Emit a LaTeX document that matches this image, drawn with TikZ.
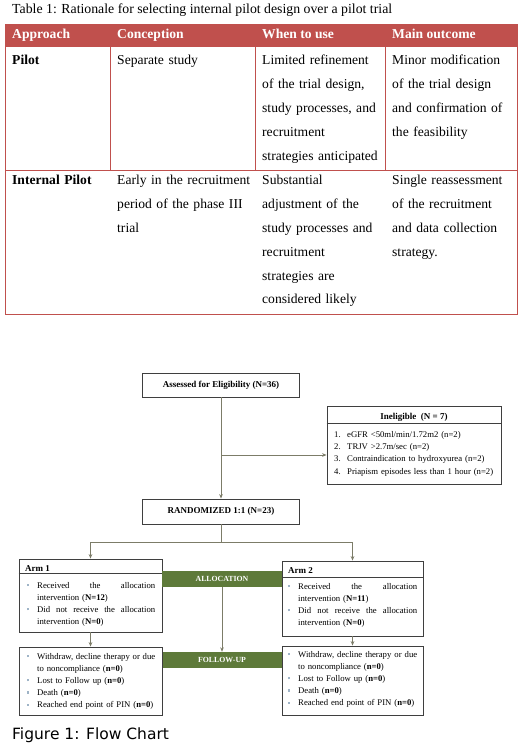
\documentclass[tikz,border=0pt]{standalone}
\usepackage{fontspec}
\setmainfont{Liberation Serif}
\newfontfamily\captionsans{DejaVu Sans}
\usetikzlibrary{positioning,arrows.meta}
\definecolor{TableRed}{HTML}{C0504D}
\definecolor{ChartGreen}{HTML}{5E7A3A}
\definecolor{ChartLine}{HTML}{7C7C68}
\definecolor{BoxEdge}{HTML}{3F3F3F}
\definecolor{BulletGray}{HTML}{9FB4C7}
\newcommand{\tabfont}{\fontsize{13.6}{23.8}\selectfont}
\newcommand{\bul}{\makebox[10pt][l]{\textcolor{BulletGray}{\rule[2pt]{2.2pt}{2.2pt}}}}
\newcommand{\ind}{\hspace*{10pt}}
% a justified list line that never breaks
\newcommand{\jline}[2]{\hbox to #1{#2}}
\tikzset{
  table head/.style={anchor=base west,inner sep=0pt,text=white,font=\tabfont\bfseries},
  table cell/.style={anchor=base west,inner sep=0pt,text width=136pt,align=left,font=\tabfont},
  table rule/.style={draw=TableRed,line width=0.9pt},
  chart box/.style={draw=BoxEdge,line width=0.8pt,minimum width=157pt,minimum height=24pt,
    inner sep=0pt,font=\fontsize{9}{11}\selectfont\bfseries},
  chart frame/.style={draw=BoxEdge,line width=0.8pt,inner sep=0pt},
  chart head/.style={anchor=base west,inner sep=0pt,font=\fontsize{9}{11}\selectfont\bfseries},
  chart list/.style={anchor=base west,inner sep=0pt,align=left,font=\fontsize{8.7}{12.2}\selectfont},
  chart bar/.style={fill=ChartGreen,text=white,minimum width=120pt,minimum height=16pt,
    inner sep=0pt,font=\fontsize{7.8}{9}\selectfont\bfseries},
  chart arrow/.style={-{Stealth[length=4.5pt,width=3.6pt]},line width=0.8pt,draw=ChartLine},
  chart line/.style={line width=0.8pt,draw=ChartLine}
}

\begin{document}
\begin{tikzpicture}[x=1pt,y=-1pt]
  \useasboundingbox (0,0) rectangle (520,743);
  % table
  \node[anchor=base west,inner sep=0pt,font=\fontsize{13.8}{16}\selectfont] (tabcaption) at (12,14)
    {Table 1: Rationale for selecting internal pilot design over a pilot trial};
  \fill[TableRed] (5,24) rectangle (517,47);
  \draw[table rule] (5,24) rectangle (517,314);
  \draw[table rule] (5,170) -- (517,170);
  \foreach \x in {110,255,385}
    \draw[table rule] (\x,47) -- (\x,170);
  \node[table head] (headapproach) at (12,39) {Approach};
  \node[table head] (headconception) at (117,39) {Conception};
  \node[table head] (headwhen) at (262,39) {When to use};
  \node[table head] (headoutcome) at (392,39) {Main outcome};
  \node[table cell,font=\tabfont\bfseries] (pilotname) at (12,65) {Pilot};
  \node[table cell] (pilotconception) at (117,65) {Separate study};
  \node[table cell] (pilotwhen) at (262,65) {Limited refinement\\of the trial design,\\study processes, and\\recruitment\\strategies anticipated};
  \node[table cell] (pilotoutcome) at (392,65) {Minor modification\\of the trial design\\and confirmation of\\the feasibility};
  \node[table cell,font=\tabfont\bfseries] (internalname) at (12,185) {Internal Pilot};
  \node[table cell] (internalconception) at (117,185) {Early in the recruitment\\period of the phase III\\trial};
  \node[table cell] (internalwhen) at (262,185) {Substantial\\adjustment of the\\study processes and\\recruitment\\strategies are\\considered likely};
  \node[table cell] (internaloutcome) at (392,185) {Single reassessment\\of the recruitment\\and data collection\\strategy.};

  % flow chart
  \node[chart box] (assess) at (221,385) {Assessed for Eligibility (N=36)};
  \node[chart frame,minimum width=174pt,minimum height=78pt] (inel) at (414,445) {};
  \draw[chart frame] ([yshift=-18pt]inel.north west) -- ([yshift=-18pt]inel.north east);
  \node[chart head,anchor=base] (inelhead) at (414,419) {Ineligible\ \ (N = 7)};
  \node[chart list,text width=165pt,font=\fontsize{8.7}{12.2}\selectfont] (inellist) at (334,437.5)
    {\makebox[13pt][l]{1.}eGFR <50ml/min/1.72m2 (n=2)\\
     \makebox[13pt][l]{2.}TRJV >2.7m/sec (n=2)\\
     \makebox[13pt][l]{3.}Contraindication to hydroxyurea (n=2)\\
     \makebox[13pt][l]{4.}Priapism episodes less than 1 hour (n=2)};
  \node[chart box,minimum height=25pt] (rand) at (221,511.5) {RANDOMIZED 1:1 (N=23)};

  \node[chart frame,minimum width=143pt,minimum height=73pt] (arm1) at (90.5,595.5) {};
  \draw[chart frame] ([yshift=-15pt]arm1.north west) -- ([yshift=-15pt]arm1.north east);
  \node[chart head] (arm1head) at (25,571) {Arm 1};
  \node[chart list,text width=128pt] (arm1list) at (27,588)
    {\bul\jline{118pt}{Received\hfil the\hfil allocation}\\
     \ind intervention (\textbf{N=12})\\
     \bul\jline{118pt}{Did\hfil not\hfil receive\hfil the\hfil allocation}\\
     \ind intervention (\textbf{N=0})};
  \node[chart frame,minimum width=141pt,minimum height=75pt] (arm2) at (352.5,598.5) {};
  \draw[chart frame] ([yshift=-17pt]arm2.north west) -- ([yshift=-17pt]arm2.north east);
  \node[chart head] (arm2head) at (288,573) {Arm 2};
  \node[chart list,text width=129pt] (arm2list) at (288,589)
    {\bul\jline{119pt}{Received\hfil the\hfil allocation}\\
     \ind intervention (\textbf{N=11})\\
     \bul\jline{119pt}{Did\hfil not\hfil receive\hfil the\hfil allocation}\\
     \ind intervention (\textbf{N=0})};

  \node[chart bar] (alloc) at (222,579) {ALLOCATION};
  \node[chart bar] (follow) at (222,660) {FOLLOW-UP};

  \node[chart frame,minimum width=143pt,minimum height=68pt] (fu1) at (90.5,681) {};
  \node[chart list,text width=128pt] (fu1list) at (27,659)
    {\bul\jline{118pt}{Withdraw,\hfil decline\hfil therapy\hfil or\hfil due}\\
     \ind to noncompliance (\textbf{n=0})\\
     \bul Lost to Follow up (\textbf{n=0})\\
     \bul Death (\textbf{n=0})\\
     \bul Reached end point of PIN (\textbf{n=0})};
  \node[chart frame,minimum width=141pt,minimum height=69pt] (fu2) at (352.5,680.5) {};
  \node[chart list,text width=129pt] (fu2list) at (288,657)
    {\bul\jline{119pt}{Withdraw,\hfil decline\hfil therapy\hfil or\hfil due}\\
     \ind to noncompliance (\textbf{n=0})\\
     \bul Lost to Follow up (\textbf{n=0})\\
     \bul Death (\textbf{n=0})\\
     \bul Reached end point of PIN (\textbf{n=0})};

  \coordinate (branch) at (221,455);
  \coordinate (split) at (221,542);
  \draw[chart arrow] (assess) -- (rand);
  \draw[chart arrow] (branch) -- (branch -| inel.west);
  \draw[chart line] (rand) -- (split);
  \draw[chart arrow] (split) -| (arm1.north);
  \draw[chart arrow] (split) -| (arm2.north);
  \draw[chart arrow] (alloc) -- (follow);
  \draw[chart arrow] (arm1) -- (fu1);
  \draw[chart arrow] (arm2) -- (fu2);

  \node[anchor=base west,inner sep=0pt,font=\captionsans\fontsize{15.5}{18}\selectfont] (figcaption) at (12,739)
    {Figure 1: Flow Chart};
\end{tikzpicture}
\end{document}
